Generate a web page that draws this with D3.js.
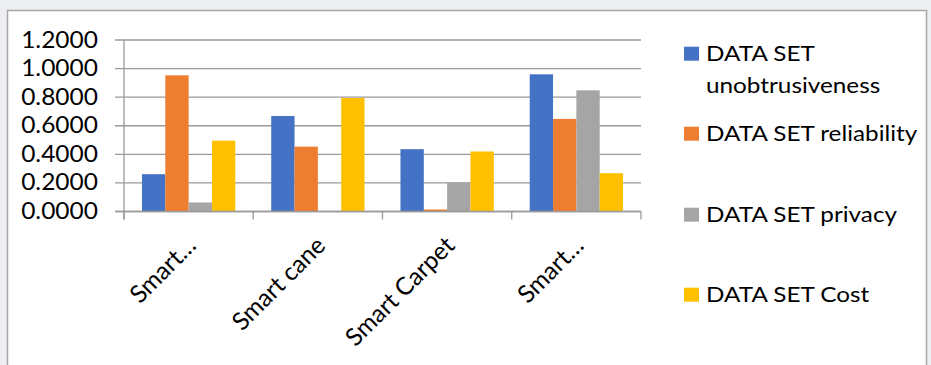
<!DOCTYPE html>
<html><head><meta charset="utf-8">
<script src="https://cdn.jsdelivr.net/npm/d3@7"></script>
<style>
html,body{margin:0;padding:0;background:#eceef2;}
svg{display:block;}
text{font-family:Lato, "Open Sans", sans-serif;fill:#000;}
</style></head>
<body>
<svg id="chart" width="931" height="365"></svg>
<script>
const categories = ["Smart…", "Smart cane", "Smart Carpet", "Smart…"];
const seriesNames = ["DATA SET unobtrusiveness", "DATA SET reliability", "DATA SET privacy", "DATA SET Cost"];
const unobtrusiveness = [0.261, 0.668, 0.436, 0.960];
const reliability     = [0.953, 0.454, 0.014, 0.648];
const privacy         = [0.063, 0.000, 0.203, 0.848];
const cost            = [0.496, 0.794, 0.420, 0.268];
const yTicks = [0, 0.2, 0.4, 0.6, 0.8, 1.0, 1.2];
const colors = ["#4472c4", "#ed7d31", "#a5a5a5", "#ffc000"];

const seriesValues = [unobtrusiveness, reliability, privacy, cost];

const svg = d3.select("#chart");
// chart frame
svg.append("rect").attr("x", 7.5).attr("y", 10.5).attr("width", 919).attr("height", 380)
  .attr("fill", "#fff").attr("stroke", "#a6a6a6").attr("stroke-width", 1.5);

const plot = {left: 124, right: 641, top: 40, bottom: 211.5};

const x0 = d3.scaleBand().domain(d3.range(categories.length)).range([plot.left, plot.right]).paddingInner(0).paddingOuter(0);
const x1 = d3.scaleBand().domain(d3.range(seriesNames.length)).range([0, x0.bandwidth()]).paddingOuter(0.77).paddingInner(0);
const y = d3.scaleLinear().domain([0, 1.2]).range([plot.bottom, plot.top]);

// gridlines
svg.append("g").selectAll("line").data(yTicks).join("line")
  .attr("x1", plot.left - 9).attr("x2", plot.right)
  .attr("y1", d => y(d)).attr("y2", d => y(d))
  .attr("stroke", "#9a9a9a").attr("stroke-width", 1.3);

// y labels
svg.append("g").selectAll("text").data(yTicks).join("text")
  .attr("transform", d => `translate(98,${y(d) + 7.5}) scale(1.09,1)`)
  .attr("text-anchor", "end").attr("font-size", 22.5)
  .text(d => d.toFixed(4));

// bars
const groups = svg.append("g").selectAll("g").data(categories).join("g")
  .attr("transform", (d, i) => `translate(${x0(i)},0)`);
groups.selectAll("rect").data((d, i) => seriesValues.map((s, k) => ({k, v: s[i]})))
  .join("rect")
  .attr("x", d => x1(d.k)).attr("width", x1.bandwidth())
  .attr("y", d => y(d.v)).attr("height", d => y(0) - y(d.v))
  .attr("fill", d => colors[d.k]);

// axes lines
svg.append("line").attr("x1", plot.left).attr("x2", plot.left).attr("y1", plot.top).attr("y2", plot.bottom + 8)
  .attr("stroke", "#9a9a9a").attr("stroke-width", 1.3);
svg.append("line").attr("x1", plot.left - 9).attr("x2", plot.right).attr("y1", plot.bottom).attr("y2", plot.bottom)
  .attr("stroke", "#9a9a9a").attr("stroke-width", 1.5);
const bounds = d3.range(categories.length + 1).map(i => plot.left + i * x0.step());
svg.append("g").selectAll("line").data(bounds).join("line")
  .attr("x1", d => d).attr("x2", d => d).attr("y1", plot.bottom).attr("y2", plot.bottom + 8)
  .attr("stroke", "#9a9a9a").attr("stroke-width", 1.3);

// category labels
svg.append("g").selectAll("text").data(categories).join("text")
  .attr("text-anchor", "end").attr("font-size", 24.5)
  .attr("transform", (d, i) => `translate(${x0(i) + x0.bandwidth() / 2 + 9},247) rotate(-45)`)
  .text(d => d);

// legend
const legendBase = [60.7, 140.7, 221.7, 301.7];
const leg = svg.append("g");
seriesNames.forEach((name, i) => {
  leg.append("rect").attr("x", 684).attr("y", legendBase[i] - 14).attr("width", 15).attr("height", 14).attr("fill", colors[i]);
  const t = leg.append("text").attr("transform", `translate(706,${legendBase[i]}) scale(1.13,1)`).attr("font-size", 21.5);
  if (i === 0) {
    t.append("tspan").attr("x", 0).text("DATA SET");
    t.append("tspan").attr("x", 0).attr("dy", 32.6).text("unobtrusiveness");
  } else {
    t.text(name);
  }
});
</script>
</body></html>
